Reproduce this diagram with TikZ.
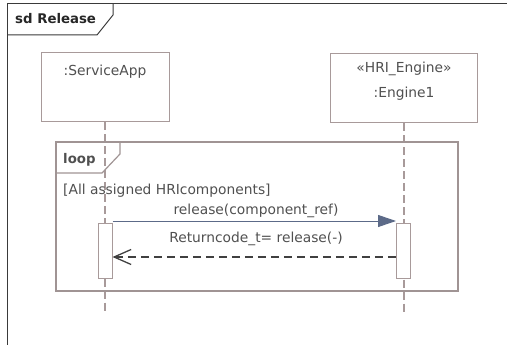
\documentclass[tikz,border=0pt]{standalone}
\usepackage{fontspec}
\setmainfont{DejaVu Sans}
\usetikzlibrary{arrows.meta}
\definecolor{framec}{HTML}{3A3A3A}
\definecolor{boxc}{HTML}{A89A9A}
\definecolor{loopc}{HTML}{A09494}
\definecolor{txtc}{HTML}{505050}
\definecolor{msgc}{HTML}{5C6A88}
\definecolor{retc}{HTML}{404040}
\tikzset{
  headbox/.style={draw=boxc, line width=1pt, fill=white, inner sep=0pt},
  actbox/.style={draw=boxc, line width=1pt, fill=white, inner sep=0pt, minimum width=14pt, minimum height=55pt},
  lbl/.style={text=txtc, font=\fontsize{13.8}{16}\selectfont, inner sep=0pt, anchor=base},
  lifeline/.style={draw=boxc, line width=1.3pt, dash pattern=on 8pt off 4pt},
  loopframe/.style={draw=loopc, line width=2pt},
  msg/.style={draw=msgc, line width=1pt, -{Triangle[length=18pt,width=12pt]}},
  ret/.style={draw=retc, line width=1.5pt, dash pattern=on 8pt off 5pt, {Straight Barb[length=17pt,width=15pt,line width=1.3pt]}-},
}
\begin{document}
\begin{tikzpicture}[x=1pt,y=-1pt]
\useasboundingbox (0,0) rectangle (507,345);
\clip (0,0) rectangle (507,345);
% outer frame
\draw[framec, line width=1pt] (7,4) rectangle (530,370);
\draw[framec, line width=1pt] (7,35) -- (97,35) -- (113,15) -- (113,4);
\node[lbl, text=black!85, font=\fontsize{13.3}{16}\selectfont\bfseries, anchor=base west] (sdT) at (15,24) {sd Release};
% lifeline heads
\node[headbox, minimum width=128pt, minimum height=69pt] (sa) at (105,87.5) {};
\node[headbox, minimum width=147pt, minimum height=69pt] (eng) at (403.5,88.5) {};
\node[lbl] (saT) at (105,76) {:ServiceApp};
\node[lbl] (engS) at (404,73) {«HRI\_Engine»};
\node[lbl] (engT) at (404,98) {:Engine1};
% lifelines
\coordinate (saEnd) at (105,312);
\coordinate (engEnd) at (404,312);
\draw[lifeline] (sa.south -| saEnd) -- (saEnd);
\draw[lifeline] (eng.south -| engEnd) -- (engEnd);
% loop fragment
\draw[loopframe] (56,142) rectangle (458,291);
\draw[loopframe, line width=1.2pt] (56,173) -- (102,173) -- (120,154) -- (120,142);
\node[lbl, font=\fontsize{13.3}{16}\selectfont\bfseries, anchor=base west] (loopT) at (63,163.3) {loop};
\node[lbl, anchor=base west] (guard) at (63,194.3) {[All assigned HRIcomponents]};
% activations
\node[actbox] (saAct) at (105,250.5) {};
\node[actbox] (engAct) at (403.5,250.5) {};
% messages
\draw[msg] (saAct.east |- 0,221) -- (engAct.west |- 0,221);
\node[lbl] (m1) at (256,214.7) {release(component\_ref)};
\draw[ret] (saAct.east |- 0,257) -- (engAct.west |- 0,257);
\node[lbl] (m2) at (256,242) {Returncode\_t= release(-)};
\end{tikzpicture}
\end{document}
